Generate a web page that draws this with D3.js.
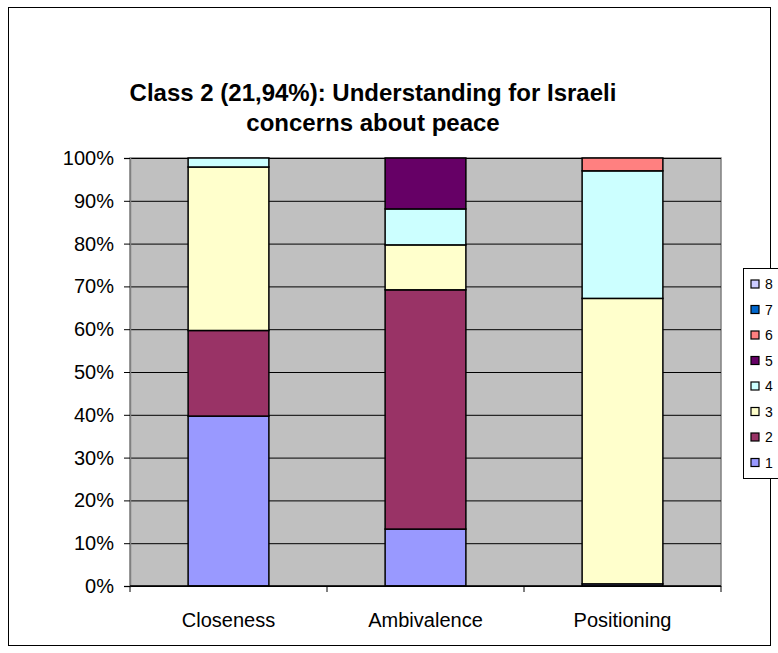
<!DOCTYPE html>
<html>
<head>
<meta charset="utf-8">
<script src="https://cdn.jsdelivr.net/npm/d3@7"></script>
<style>
  body { margin: 0; background: #fff; }
  text { font-family: Arial, "Liberation Sans", sans-serif; }
</style>
</head>
<body>
<div id="chart"></div>
<script>
// categories and series (percent of each bar)
const categories = ["Closeness", "Ambivalence", "Positioning"];
const seriesNames = ["1", "2", "3", "4", "5", "6", "7", "8"];
const s1 = [39.7, 13.3, 0.5];
const s2 = [20.0, 55.9, 0];
const s3 = [38.2, 10.5, 66.7];
const s4 = [2.1, 8.4, 29.8];
const s5 = [0, 11.9, 0];
const s6 = [0, 0, 3.0];
const s7 = [0, 0, 0];
const s8 = [0, 0, 0];
const yTicks = [0, 10, 20, 30, 40, 50, 60, 70, 80, 90, 100];
const colors = ["#9999FF", "#993366", "#FFFFCC", "#CCFFFF", "#660066", "#FF8080", "#0066CC", "#CCCCFF"];

function loadGraph() {
    let plotWidth = 778;
    let plotHeight = 653;

    let margin = { top: 158, left: 130 };
    let width = 591;
    let height = 428;

    let svg = d3.select("#chart")
        .append("svg")
        .attr("width", plotWidth)
        .attr("height", plotHeight);

    // chart frame
    svg.append("rect")
        .attr("x", 8.5).attr("y", 7.5)
        .attr("width", 762).attr("height", 638)
        .attr("fill", "#fff")
        .attr("stroke", "#000")
        .attr("stroke-width", 1);

    // title
    let title = svg.append("text")
        .attr("x", 373)
        .attr("text-anchor", "middle")
        .attr("font-size", "24px")
        .attr("font-weight", "bold");
    title.append("tspan").attr("x", 373).attr("y", 101).text("Class 2 (21,94%): Understanding for Israeli");
    title.append("tspan").attr("x", 373).attr("y", 131).text("concerns about peace");

    let graph = svg.append("g")
        .attr("transform", `translate(${margin.left}, ${margin.top})`);

    let rows = categories.map((c, i) => {
        let r = { cat: c };
        [s1, s2, s3, s4, s5, s6, s7, s8].forEach((s, j) => r[seriesNames[j]] = s[i]);
        return r;
    });
    let stacked = d3.stack().keys(seriesNames)(rows);

    let xScale = d3.scaleBand()
        .domain(categories)
        .range([0, width])
        .padding(0);

    let yScale = d3.scaleLinear()
        .domain([0, 100])
        .range([height, 0]);

    // plot area
    graph.append("rect")
        .attr("width", width)
        .attr("height", height)
        .attr("fill", "#C0C0C0")
        .attr("stroke", "#808080")
        .attr("stroke-width", 1.5);

    // gridlines
    graph.append("g")
        .call(d3.axisLeft(yScale).tickValues(yTicks).tickSize(-width).tickFormat(""))
        .call(g => g.select(".domain").remove())
        .selectAll("line")
        .attr("stroke", "#000");

    // y axis
    let yAxis = graph.append("g")
        .call(d3.axisLeft(yScale).tickValues(yTicks).tickSize(6).tickPadding(10)
            .tickFormat(d => d + "%"));
    yAxis.select(".domain").attr("stroke", "#808080").attr("stroke-width", 1.5);
    yAxis.selectAll("text").attr("font-size", "20px").attr("fill", "#000")
        .attr("font-family", "Arial, 'Liberation Sans', sans-serif");

    // bars
    let barW = xScale.bandwidth() * 0.41;
    graph.selectAll("g.series")
        .data(stacked)
        .enter()
        .append("g")
        .attr("class", "series")
        .attr("fill", (d, i) => colors[i])
        .selectAll("rect")
        .data(d => d.filter(p => p[1] - p[0] > 0))
        .enter()
        .append("rect")
        .attr("x", d => xScale(d.data.cat) + (xScale.bandwidth() - barW) / 2)
        .attr("y", d => yScale(d[1]))
        .attr("width", barW)
        .attr("height", d => yScale(d[0]) - yScale(d[1]))
        .attr("stroke", "#000")
        .attr("stroke-width", 1.5);

    // x axis
    let xAxis = graph.append("g")
        .attr("transform", `translate(0, ${height})`)
        .call(d3.axisBottom(xScale).tickSize(0).tickPadding(27));
    xAxis.select(".domain").remove();
    xAxis.selectAll("text").attr("font-size", "20px").attr("fill", "#000")
        .attr("font-family", "Arial, 'Liberation Sans', sans-serif");
    graph.append("line")
        .attr("x1", 0).attr("x2", width)
        .attr("y1", height).attr("y2", height)
        .attr("stroke", "#000").attr("stroke-width", 1.5);
    graph.selectAll("line.xtick")
        .data([0, 1, 2, 3])
        .enter()
        .append("line")
        .attr("class", "xtick")
        .attr("x1", d => d * xScale.step()).attr("x2", d => d * xScale.step())
        .attr("y1", height).attr("y2", height + 6)
        .attr("stroke", "#000");

    // legend
    let legend = svg.append("g").attr("transform", "translate(743, 268)");
    legend.append("rect")
        .attr("x", 0.5).attr("y", 0.5)
        .attr("width", 60).attr("height", 210)
        .attr("fill", "#fff")
        .attr("stroke", "#000");
    let items = legend.selectAll("g.item")
        .data(seriesNames.slice().reverse())
        .enter()
        .append("g")
        .attr("class", "item")
        .attr("transform", (d, i) => `translate(0, ${16 + i * 25.5})`);
    items.append("rect")
        .attr("x", 8).attr("y", -4)
        .attr("width", 8).attr("height", 8)
        .attr("fill", d => colors[+d - 1])
        .attr("stroke", "#000")
        .attr("stroke-width", 1.2);
    items.append("text")
        .attr("x", 22).attr("y", 5)
        .attr("font-size", "14px")
        .text(d => d);
}

loadGraph();
</script>
</body>
</html>
